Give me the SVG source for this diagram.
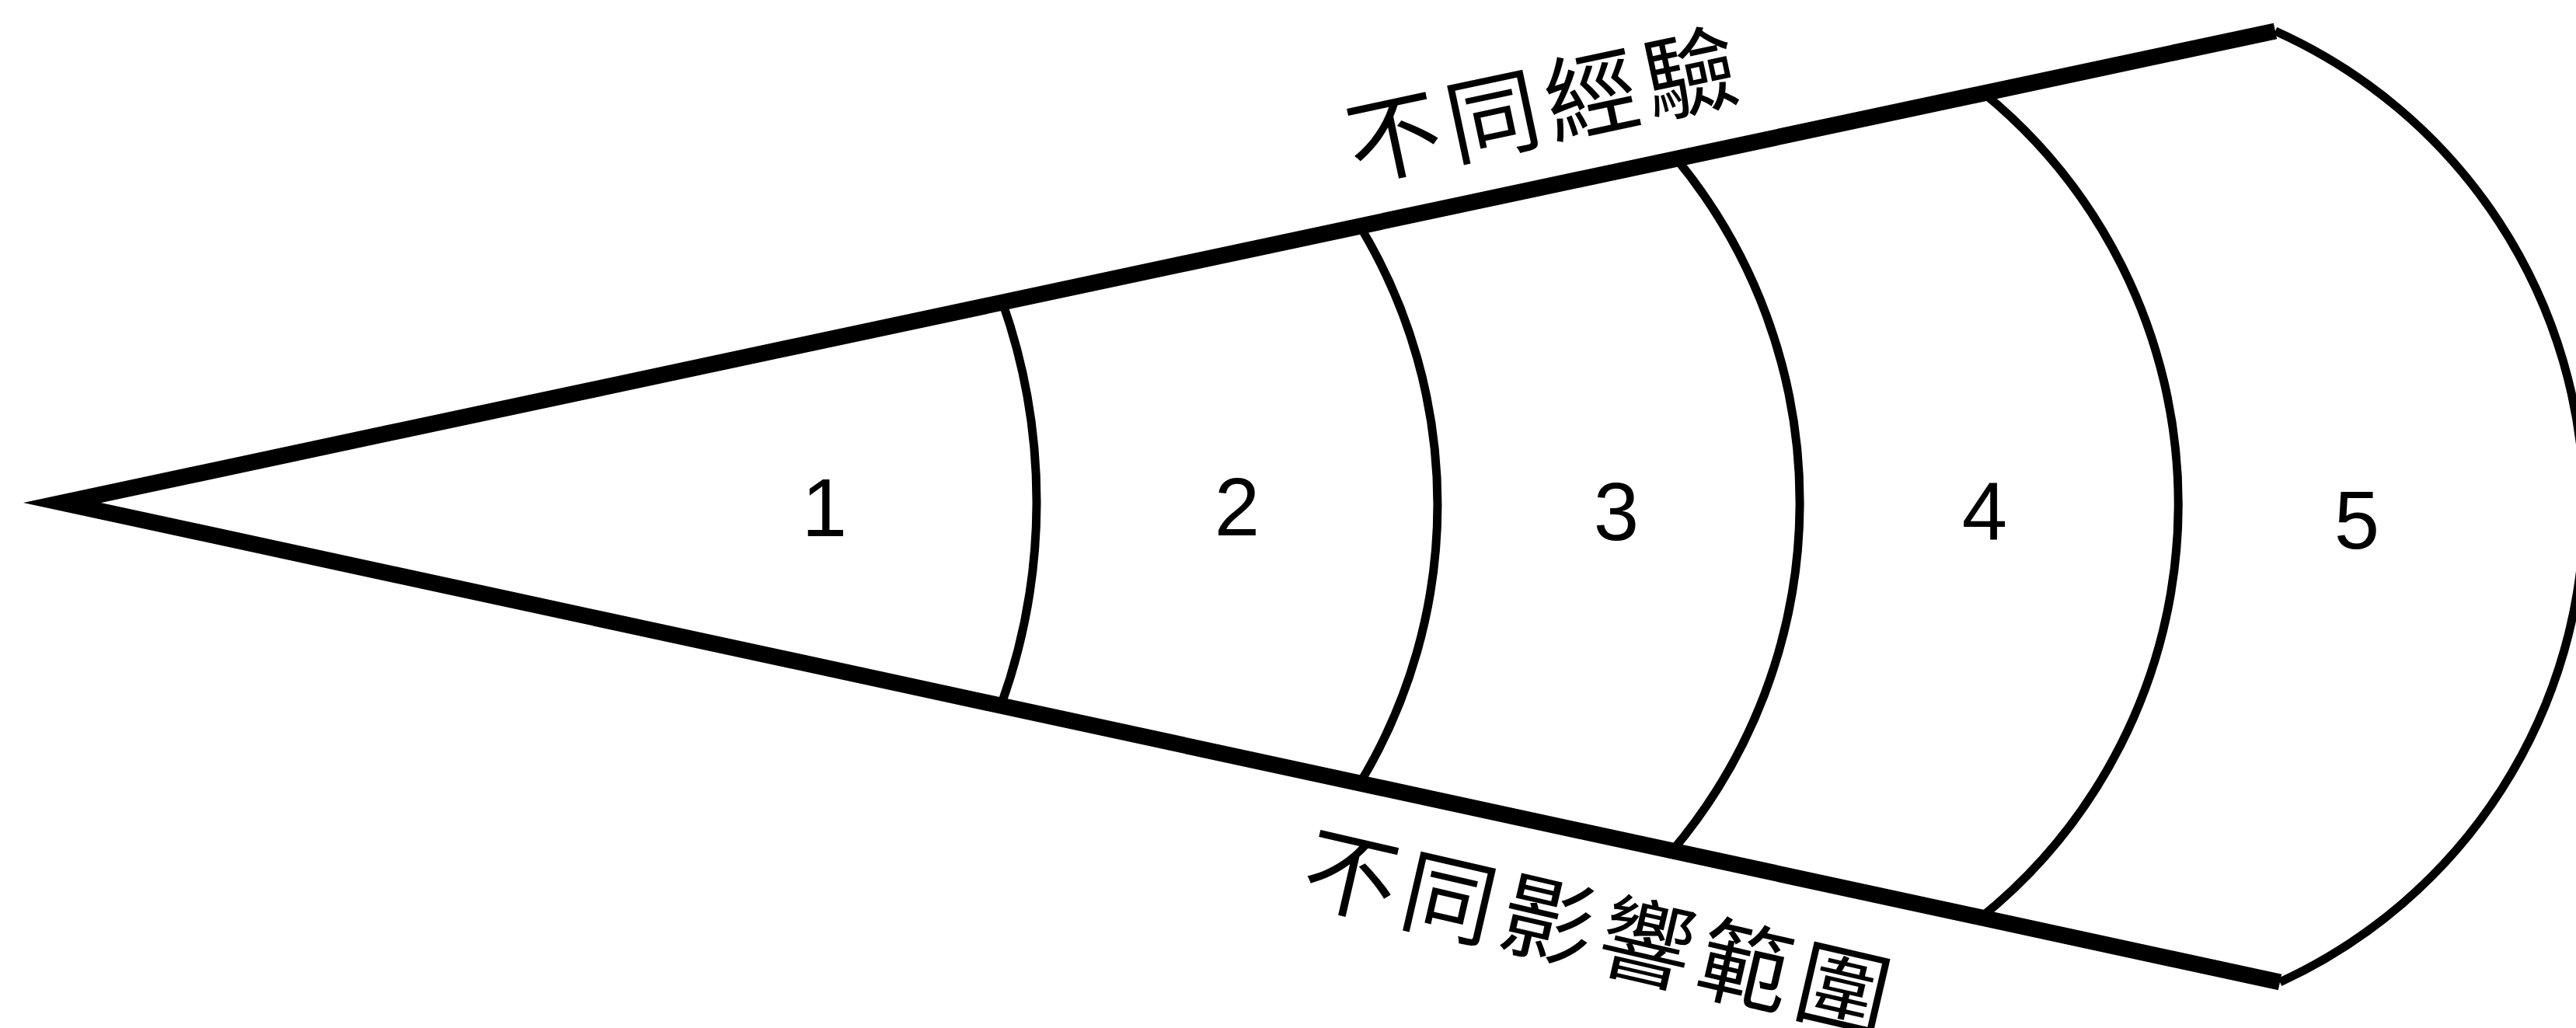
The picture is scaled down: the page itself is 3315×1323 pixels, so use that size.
<svg xmlns="http://www.w3.org/2000/svg" width="3315" height="1323" viewBox="0 0 3315 1323">
<style>
.edge{fill:none;stroke:#000;stroke-width:21;stroke-linejoin:miter;stroke-miterlimit:10}
.arc{fill:none;stroke:#000;stroke-width:11}
.num{font-family:"Liberation Sans","DejaVu Sans",sans-serif;font-size:105px;fill:#000;text-anchor:middle}
.cjk{font-family:"Noto Sans CJK TC","Noto Sans CJK SC",sans-serif;font-size:120px;fill:#000;text-anchor:middle;letter-spacing:10px}
</style>
<rect width="3315" height="1323" fill="#fff"/>
<g id="connectors">
  <path id="cone" class="edge" d="M2928 40 L80 647 L2934 1264"/>
  <path id="outer-arc" class="arc" d="M2928 40 A672 672 0 0 1 2934 1264"/>
</g>
<g id="zone1">
  <path class="arc" d="M1290 389 A771 771 0 0 1 1288 908"/>
  <text class="num" x="1061" y="690">1</text>
</g>
<g id="zone2">
  <path class="arc" d="M1750 291 A693 693 0 0 1 1750 1008"/>
  <text class="num" x="1592" y="689">2</text>
</g>
<g id="zone3">
  <path class="arc" d="M2157 204 A695 695 0 0 1 2152 1095"/>
  <text class="num" x="2080" y="695">3</text>
</g>
<g id="zone4">
  <path class="arc" d="M2553 120 A684 684 0 0 1 2549 1181"/>
  <text class="num" x="2554" y="695">4</text>
</g>
<g id="zone5">
  <text class="num" x="3033" y="706">5</text>
</g>
<g id="label-top">
  <text class="cjk" x="1990" y="180" transform="rotate(-12 1985 138)">不同經驗</text>
</g>
<g id="label-bottom">
  <text class="cjk" x="2060" y="1244" transform="rotate(13 2055 1202)">不同影響範圍</text>
</g>
</svg>
